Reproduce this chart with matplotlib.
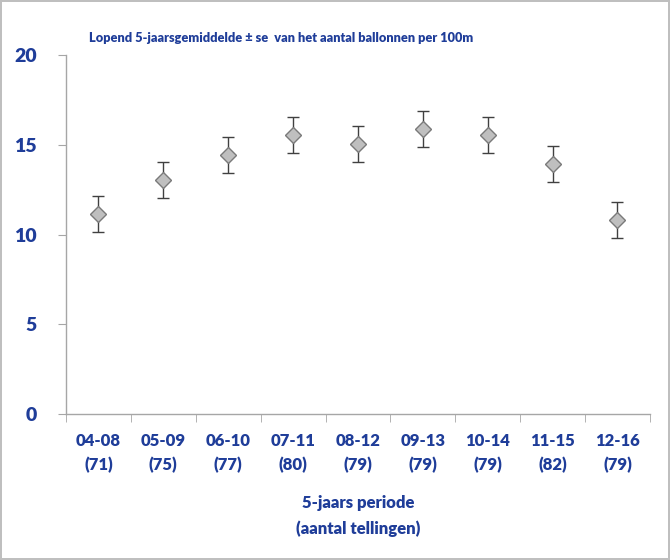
import matplotlib.pyplot as plt
from matplotlib.ticker import FixedLocator

# data
periods = ["04-08", "05-09", "06-10", "07-11", "08-12", "09-13", "10-14", "11-15", "12-16"]
counts = [71, 75, 77, 80, 79, 79, 79, 82, 79]
means = [11.15, 13.05, 14.45, 15.55, 15.05, 15.9, 15.55, 13.95, 10.8]
se = [1.0, 1.0, 1.0, 1.0, 1.0, 1.0, 1.0, 1.0, 1.0]

blue = '#1f3d99'
plt.rcParams['font.family'] = ['Lato', 'DejaVu Sans']

fig = plt.figure(figsize=(6.7, 5.6), dpi=100, edgecolor='#bfbfbf', linewidth=1.5)
ax = fig.add_axes([0.0985, 0.2607, 0.8715, 0.6411])

x = list(range(len(periods)))
ax.errorbar(x, means, yerr=se, fmt='none', ecolor='#404040', elinewidth=1.0,
            capsize=4, capthick=1.0, zorder=2)
ax.plot(x, means, linestyle='none', marker='D', markersize=8.2,
        markerfacecolor='#bfbfbf', markeredgecolor='#7a7a7a', markeredgewidth=1.0, zorder=3)

ax.set_xlim(-0.5, len(periods) - 0.5)
ax.set_ylim(0, 20)
ax.set_yticks([0, 5, 10, 15, 20])

labels = [f"{p}\n({c})" for p, c in zip(periods, counts)]
ax.set_xticks(x)
ax.set_xticklabels(labels, fontsize=12, fontweight='heavy', color=blue, linespacing=1.55)
ax.tick_params(axis='x', length=0, pad=14)
ax.xaxis.set_minor_locator(FixedLocator([i - 0.5 for i in range(len(periods) + 1)]))
ax.tick_params(axis='x', which='minor', length=6, color='#a6a6a6', direction='out')

ax.tick_params(axis='y', length=6, color='#a6a6a6', labelsize=14, labelcolor=blue, pad=15)
for t in ax.get_yticklabels():
    t.set_fontweight('heavy')

for s in ['top', 'right']:
    ax.spines[s].set_visible(False)
for s in ['left', 'bottom']:
    ax.spines[s].set_color('#a6a6a6')
    ax.spines[s].set_linewidth(1.0)

ax.set_xlabel("5-jaars periode\n(aantal tellingen)", fontsize=12, fontweight='heavy',
              color=blue, labelpad=16, linespacing=1.65)

fig.text(0.419, 0.932, "Lopend 5-jaarsgemiddelde \u00b1 se  van het aantal ballonnen per 100m",
         ha='center', va='center', fontsize=9.2, fontweight='heavy', color=blue)

fig.savefig('out.png', dpi=100)
